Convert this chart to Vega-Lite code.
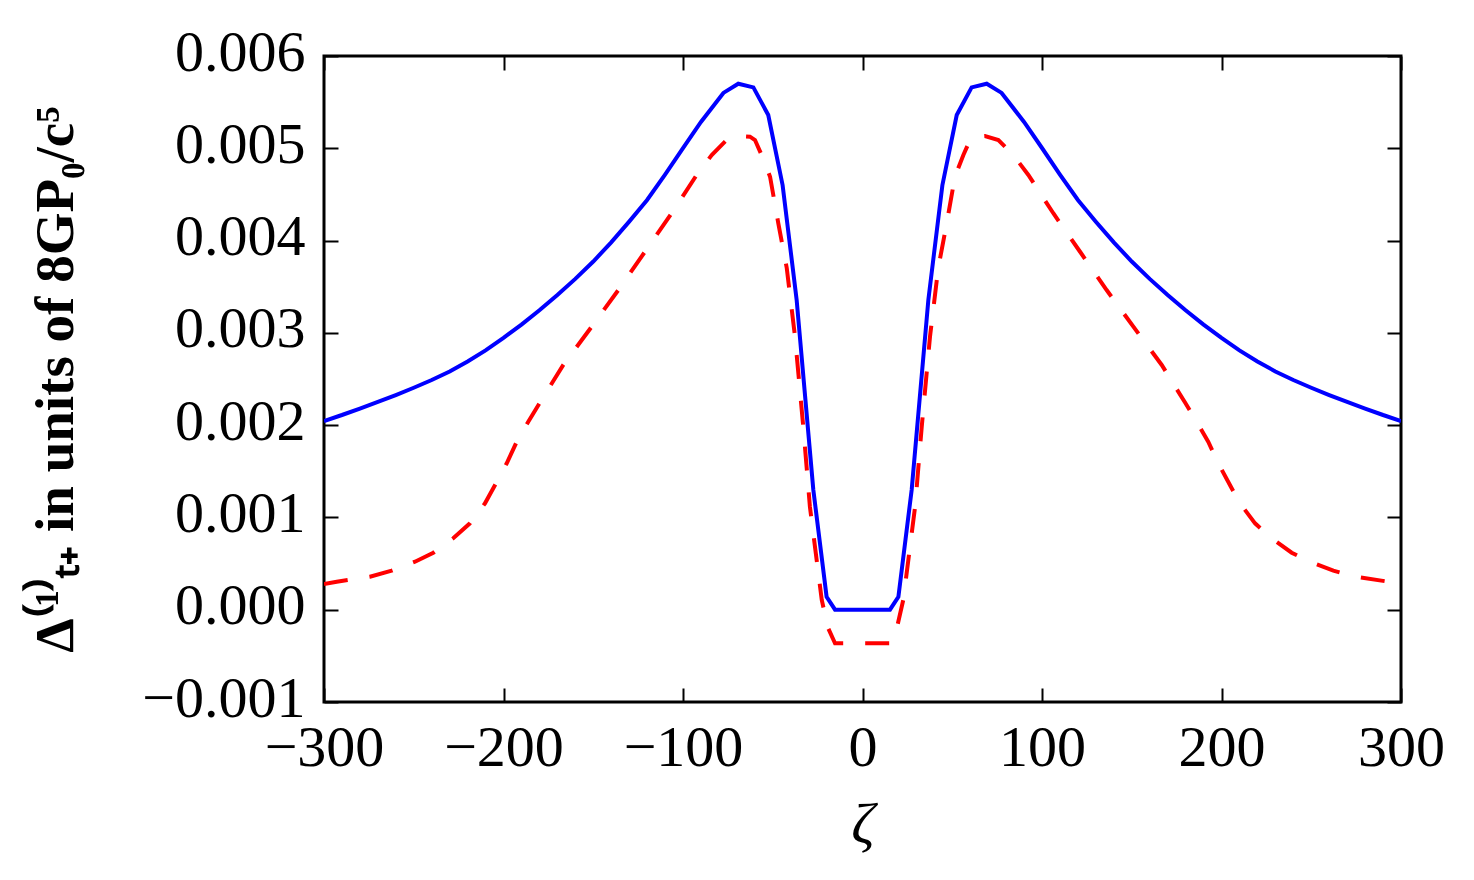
{
  "$schema": "https://vega.github.io/schema/vega-lite/v6.json",
  "width": 1077,
  "height": 646,
  "autosize": {"type": "none"},
  "padding": {"left": 324, "top": 56, "right": 73, "bottom": 178},
  "background": "white",
  "config": {
    "view": {"stroke": "black", "strokeWidth": 3},
    "axis": {
      "domain": false,
      "grid": false,
      "ticks": true,
      "tickColor": "black",
      "tickWidth": 2,
      "tickSize": -14,
      "labelFont": "Liberation Serif",
      "labelFontSize": 58,
      "labelColor": "black",
      "labelOverlap": false,
      "labelFlush": false,
      "labelBound": false,
      "titleColor": "black"
    }
  },
  "datasets": {
    "seriesA": [
      {"zeta": -300, "delta": 0.002045},
      {"zeta": -290, "delta": 0.00211},
      {"zeta": -280, "delta": 0.00218},
      {"zeta": -270, "delta": 0.002251},
      {"zeta": -260, "delta": 0.002326},
      {"zeta": -250, "delta": 0.002405},
      {"zeta": -240, "delta": 0.002489},
      {"zeta": -230, "delta": 0.002582},
      {"zeta": -220, "delta": 0.00269},
      {"zeta": -210, "delta": 0.00281},
      {"zeta": -200, "delta": 0.002945},
      {"zeta": -190, "delta": 0.00309},
      {"zeta": -180, "delta": 0.003245},
      {"zeta": -170, "delta": 0.00341},
      {"zeta": -160, "delta": 0.003585},
      {"zeta": -150, "delta": 0.003773},
      {"zeta": -140, "delta": 0.00398},
      {"zeta": -130, "delta": 0.004205},
      {"zeta": -120, "delta": 0.00444},
      {"zeta": -110, "delta": 0.004715},
      {"zeta": -100, "delta": 0.005003},
      {"zeta": -90, "delta": 0.005285},
      {"zeta": -77.5, "delta": 0.0056},
      {"zeta": -69.2, "delta": 0.0057},
      {"zeta": -60.8, "delta": 0.00566},
      {"zeta": -52.5, "delta": 0.00536},
      {"zeta": -44.5, "delta": 0.0046},
      {"zeta": -36.7, "delta": 0.00336},
      {"zeta": -27.4, "delta": 0.0013},
      {"zeta": -20, "delta": 0.00014},
      {"zeta": -15.3, "delta": 0.0},
      {"zeta": 0, "delta": 0.0},
      {"zeta": 15.3, "delta": 0.0},
      {"zeta": 20, "delta": 0.00014},
      {"zeta": 27.4, "delta": 0.0013},
      {"zeta": 36.7, "delta": 0.00336},
      {"zeta": 44.5, "delta": 0.0046},
      {"zeta": 52.5, "delta": 0.00536},
      {"zeta": 60.8, "delta": 0.00566},
      {"zeta": 69.2, "delta": 0.0057},
      {"zeta": 77.5, "delta": 0.0056},
      {"zeta": 90, "delta": 0.005285},
      {"zeta": 100, "delta": 0.005003},
      {"zeta": 110, "delta": 0.004715},
      {"zeta": 120, "delta": 0.00444},
      {"zeta": 130, "delta": 0.004205},
      {"zeta": 140, "delta": 0.00398},
      {"zeta": 150, "delta": 0.003773},
      {"zeta": 160, "delta": 0.003585},
      {"zeta": 170, "delta": 0.00341},
      {"zeta": 180, "delta": 0.003245},
      {"zeta": 190, "delta": 0.00309},
      {"zeta": 200, "delta": 0.002945},
      {"zeta": 210, "delta": 0.00281},
      {"zeta": 220, "delta": 0.00269},
      {"zeta": 230, "delta": 0.002582},
      {"zeta": 240, "delta": 0.002489},
      {"zeta": 250, "delta": 0.002405},
      {"zeta": 260, "delta": 0.002326},
      {"zeta": 270, "delta": 0.002251},
      {"zeta": 280, "delta": 0.00218},
      {"zeta": 290, "delta": 0.00211},
      {"zeta": 300, "delta": 0.002045}
    ],
    "seriesB": [
      {"zeta": -300, "delta": 0.000279},
      {"zeta": -292.9, "delta": 0.000304},
      {"zeta": -274.4, "delta": 0.000358},
      {"zeta": -262.3, "delta": 0.000423},
      {"zeta": -249.3, "delta": 0.00052},
      {"zeta": -239.1, "delta": 0.000618},
      {"zeta": -228, "delta": 0.000774},
      {"zeta": -218.7, "delta": 0.000936},
      {"zeta": -210.3, "delta": 0.001153},
      {"zeta": -204.7, "delta": 0.001351},
      {"zeta": -198.2, "delta": 0.001587},
      {"zeta": -192.6, "delta": 0.001821},
      {"zeta": -186.2, "delta": 0.002037},
      {"zeta": -179.7, "delta": 0.002245},
      {"zeta": -166.7, "delta": 0.002652},
      {"zeta": -150.9, "delta": 0.003067},
      {"zeta": -136, "delta": 0.003464},
      {"zeta": -121.2, "delta": 0.003879},
      {"zeta": -106.3, "delta": 0.004296},
      {"zeta": -92.4, "delta": 0.004711},
      {"zeta": -84, "delta": 0.004927},
      {"zeta": -75.7, "delta": 0.00509},
      {"zeta": -68.2, "delta": 0.005133},
      {"zeta": -62.7, "delta": 0.005126},
      {"zeta": -59.9, "delta": 0.00509},
      {"zeta": -56.2, "delta": 0.004927},
      {"zeta": -51.5, "delta": 0.004692},
      {"zeta": -46.9, "delta": 0.004187},
      {"zeta": -42.2, "delta": 0.003703},
      {"zeta": -37.6, "delta": 0.002958},
      {"zeta": -33, "delta": 0.001983},
      {"zeta": -29.3, "delta": 0.001116},
      {"zeta": -22.7, "delta": 0.000105},
      {"zeta": -19.1, "delta": -0.000201},
      {"zeta": -15.3, "delta": -0.000364},
      {"zeta": 0, "delta": -0.000364},
      {"zeta": 15.3, "delta": -0.000364},
      {"zeta": 19.1, "delta": -0.000201},
      {"zeta": 22.7, "delta": 0.000105},
      {"zeta": 29.3, "delta": 0.001116},
      {"zeta": 33, "delta": 0.001983},
      {"zeta": 37.6, "delta": 0.002958},
      {"zeta": 42.2, "delta": 0.003703},
      {"zeta": 46.9, "delta": 0.004187},
      {"zeta": 51.5, "delta": 0.004692},
      {"zeta": 56.2, "delta": 0.004927},
      {"zeta": 59.9, "delta": 0.00509},
      {"zeta": 62.7, "delta": 0.005126},
      {"zeta": 68.2, "delta": 0.005133},
      {"zeta": 75.7, "delta": 0.00509},
      {"zeta": 84, "delta": 0.004927},
      {"zeta": 92.4, "delta": 0.004711},
      {"zeta": 106.3, "delta": 0.004296},
      {"zeta": 121.2, "delta": 0.003879},
      {"zeta": 136, "delta": 0.003464},
      {"zeta": 150.9, "delta": 0.003067},
      {"zeta": 166.7, "delta": 0.002652},
      {"zeta": 179.7, "delta": 0.002245},
      {"zeta": 186.2, "delta": 0.002037},
      {"zeta": 192.6, "delta": 0.001821},
      {"zeta": 198.2, "delta": 0.001587},
      {"zeta": 204.7, "delta": 0.001351},
      {"zeta": 210.3, "delta": 0.001153},
      {"zeta": 218.7, "delta": 0.000936},
      {"zeta": 228, "delta": 0.000774},
      {"zeta": 239.1, "delta": 0.000618},
      {"zeta": 249.3, "delta": 0.00052},
      {"zeta": 262.3, "delta": 0.000423},
      {"zeta": 274.4, "delta": 0.000358},
      {"zeta": 292.9, "delta": 0.000304},
      {"zeta": 300, "delta": 0.000279}
    ]
  },
  "layer": [
    {
      "data": {"name": "seriesA"},
      "mark": {"type": "line", "color": "#0000ff", "strokeWidth": 4, "clip": true},
      "encoding": {
        "x": {
          "field": "zeta", "type": "quantitative",
          "scale": {"domain": [-300, 300], "nice": false, "zero": false},
          "axis": {
            "orient": "bottom",
            "values": [-300, -200, -100, 0, 100, 200, 300],
            "format": "d",
            "labelPadding": 31,
            "title": "ζ",
            "titleFont": "Liberation Serif",
            "titleFontStyle": "italic",
            "titleFontWeight": "normal",
            "titleFontSize": 58,
            "titlePadding": 19
          }
        },
        "y": {
          "field": "delta", "type": "quantitative",
          "scale": {"domain": [-0.001, 0.006], "nice": false, "zero": false},
          "axis": {
            "orient": "left",
            "values": [-0.001, 0, 0.001, 0.002, 0.003, 0.004, 0.005, 0.006],
            "format": ".3f",
            "labelPadding": 33,
            "labelOffset": -3,
            "title": "Δ⁽¹⁾ₜ₊  in units of 8GP₀/c⁵",
            "titleFont": "Liberation Serif",
            "titleFontWeight": "bold",
            "titleFontSize": 55,
            "titlePadding": 57
          }
        }
      }
    },
    {
      "data": {"name": "seriesB"},
      "mark": {"type": "line", "color": "#ff0000", "strokeWidth": 4, "strokeDash": [24, 22], "clip": true},
      "encoding": {
        "x": {
          "field": "zeta", "type": "quantitative",
          "scale": {"domain": [-300, 300], "nice": false, "zero": false},
          "axis": {
            "orient": "top",
            "values": [-300, -200, -100, 0, 100, 200, 300],
            "labels": false,
            "title": null
          }
        },
        "y": {
          "field": "delta", "type": "quantitative",
          "scale": {"domain": [-0.001, 0.006], "nice": false, "zero": false},
          "axis": {
            "orient": "right",
            "values": [-0.001, 0, 0.001, 0.002, 0.003, 0.004, 0.005, 0.006],
            "labels": false,
            "title": null
          }
        }
      }
    }
  ],
  "resolve": {
    "scale": {"x": "independent", "y": "independent"},
    "axis": {"x": "independent", "y": "independent"}
  }
}
